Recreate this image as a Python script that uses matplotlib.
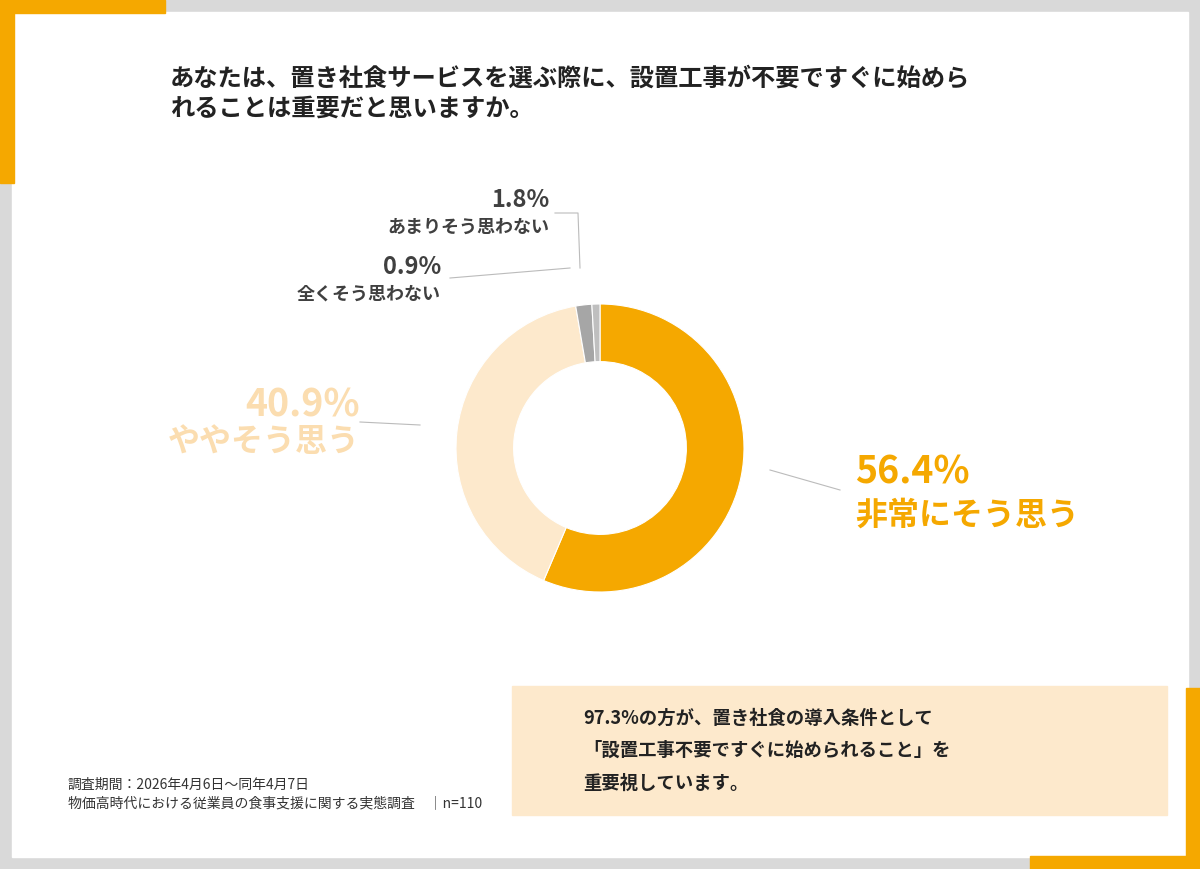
import matplotlib.pyplot as plt
from matplotlib.patches import Rectangle
from matplotlib.lines import Line2D

plt.rcParams['font.family'] = ['Noto Sans CJK JP', 'DejaVu Sans']

labels = ['非常にそう思う', 'ややそう思う', 'あまりそう思わない', '全くそう思わない']
values = [56.4, 40.9, 1.8, 0.9]
colors = ['#F5A800', '#FDE9CC', '#A6A6A6', '#BFBFBF']

W, H = 1200, 869
fig = plt.figure(figsize=(12, 8.69), dpi=100)

def fx(x): return x / W
def fy(y): return 1 - y / H

# frame
fig.patches.append(Rectangle((0, 0), 1, 1, transform=fig.transFigure, color='#D9D9D9', zorder=-3))
fig.patches.append(Rectangle((fx(12), fy(857)), 1176 / W, 845 / H, transform=fig.transFigure, color='white', zorder=-2))
org = '#F5A800'
for (x, y, w, h) in [(0, 0, 165, 13), (0, 0, 14, 183), (1186, 688, 14, 181), (1030, 856, 170, 13)]:
    fig.patches.append(Rectangle((fx(x), fy(y + h)), w / W, h / H, transform=fig.transFigure, color=org, zorder=-1))

fig.text(fx(170), fy(78), 'あなたは、置き社食サービスを選ぶ際に、設置工事が不要ですぐに始めら',
         fontsize=17.5, fontweight='bold', color='#222222', va='center')
fig.text(fx(170), fy(109), 'れることは重要だと思いますか。',
         fontsize=17.5, fontweight='bold', color='#222222', va='center')

ax = fig.add_axes([fx(420), fy(628), 360 / W, 360 / H])
ax.pie(values, colors=colors, startangle=90, counterclock=False,
       wedgeprops=dict(width=0.4, edgecolor='white', linewidth=0.8))
ax.set_aspect('equal')

lc = '#BBBBBB'
def line(xs, ys):
    fig.add_artist(Line2D([fx(x) for x in xs], [fy(y) for y in ys], color=lc, lw=0.8))

line([770, 840], [470, 490])
line([360, 420], [422, 425])
line([450, 570], [278, 268])
line([555, 578, 580], [213, 213, 268])

fig.text(fx(855), fy(472), '56.4%', fontsize=27, fontweight='bold', color=org, va='center')
fig.text(fx(855), fy(516), labels[0], fontsize=23, fontweight='bold', color=org, va='center')
pc = '#FBDDB0'
fig.text(fx(360), fy(405), '40.9%', fontsize=27, fontweight='bold', color=pc, va='center', ha='right')
fig.text(fx(360), fy(442), labels[1], fontsize=23, fontweight='bold', color=pc, va='center', ha='right')
gc = '#404040'
fig.text(fx(549), fy(200), '1.8%', fontsize=17, fontweight='bold', color=gc, va='center', ha='right')
fig.text(fx(549), fy(227), labels[2], fontsize=13, fontweight='bold', color=gc, va='center', ha='right')
fig.text(fx(441), fy(267), '0.9%', fontsize=17, fontweight='bold', color=gc, va='center', ha='right')
fig.text(fx(441), fy(294), labels[3], fontsize=13, fontweight='bold', color=gc, va='center', ha='right')

fig.patches.append(Rectangle((fx(512), fy(815)), 655 / W, 129 / H, transform=fig.transFigure, color='#FDE9CC', zorder=-1))
for y, t in [(718, '97.3%の方が、置き社食の導入条件として'),
             (750, '「設置工事不要ですぐに始められること」を'),
             (783, '重要視しています。')]:
    fig.text(fx(583), fy(y), t, fontsize=13.2, fontweight='bold', color='#222222', va='center')

fig.text(fx(68), fy(785), '調査期間：2026年4月6日～同年4月7日', fontsize=10, color='#333333', va='center')
fig.text(fx(68), fy(804), '物価高時代における従業員の食事支援に関する実態調査　│n=110', fontsize=10, color='#333333', va='center')

fig.savefig('out.png', dpi=100)
